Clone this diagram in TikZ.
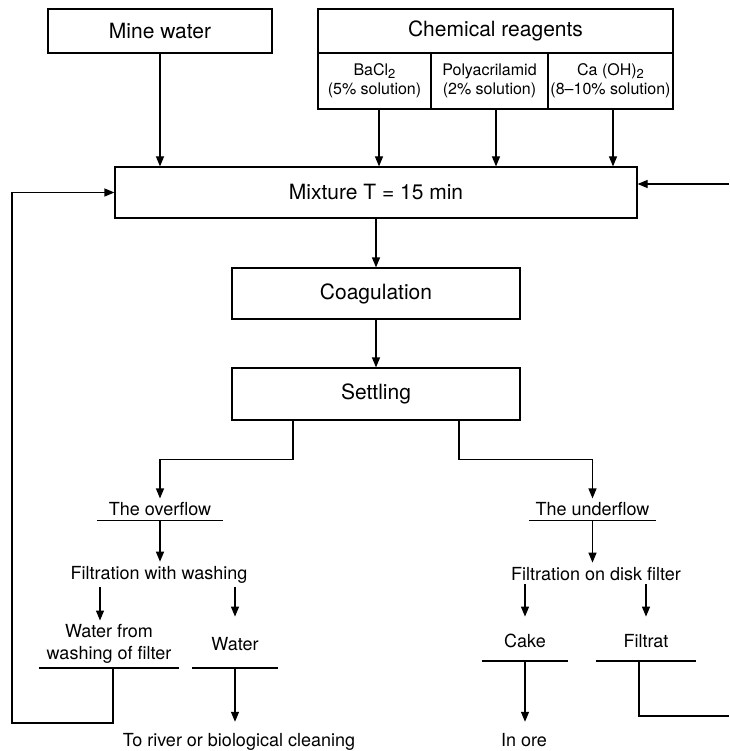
\documentclass[tikz,border=0pt]{standalone}
\usepackage{fontspec}
\setmainfont{TeX Gyre Heros}
\usetikzlibrary{arrows.meta}
% lowered subscript for the chemical formulas
\newcommand\chemsub[1]{\raisebox{-0.35ex}{\fontsize{13}{13}\selectfont #1}}
\begin{document}
\begin{tikzpicture}[x=1pt,y=-1pt,
  box/.style={draw,line width=1.2pt,inner sep=2pt,font=\fontsize{21}{25}\selectfont},
  sub/.style={draw,line width=1.2pt,inner xsep=1pt,minimum height=56pt,align=center,
    font=\fontsize{16}{19}\selectfont},
  flow/.style={line width=1.2pt,-{Triangle[length=10pt,width=8pt]}},
  link/.style={line width=1.2pt},
  txt/.style={inner xsep=0pt,inner ysep=4pt,font=\fontsize{18}{22}\selectfont,align=center},
  thinrule/.style={line width=1pt},
  thickrule/.style={line width=2.6pt}]

\useasboundingbox (0,0) rectangle (729,751);

% ---- inputs ----
\node[box,minimum width=224pt,minimum height=44pt] (mine) at (160,31) {Mine water};
\node[box,minimum width=355pt,minimum height=44pt] (chem) at (495.5,31) {Chemical reagents};
\node[sub,minimum width=113pt] (ba) at (374.5,81) {BaCl\chemsub{2}\\(5\% solution)};
\node[sub,minimum width=117pt] (poly) at (489.5,81) {Polyacrilamid\\(2\% solution)};
\node[sub,minimum width=125pt] (ca) at (610.5,81) {Ca (OH)\chemsub{2}\\(8–10\% solution)};

% ---- main process ----
\node[box,minimum width=522pt,minimum height=51pt] (mix) at (376,192.5) {Mixture T = 15 min};
\node[box,minimum width=288pt,minimum height=51pt] (coag) at (376,293.5) {Coagulation};
\node[box,minimum width=288pt,minimum height=52pt] (settle) at (376,394) {Settling};

% ---- overflow branch ----
\node[txt,anchor=south,minimum width=126pt,text depth=0pt] (ovf) at (160,520) {The overflow};
\node[txt,anchor=base] (filtw) at (159,579) {Filtration with washing};
\node[txt,anchor=south,minimum width=140pt] (wfw) at (109,668) {Water from\\washing of filter};
\node[txt,anchor=south,minimum width=86pt,text height=30pt,text depth=13pt] (wat) at (235,668) {Water};
\node[txt,anchor=base,text height=20pt] (river) at (239,746) {To river or biological cleaning};

% ---- underflow branch ----
\node[txt,anchor=south,minimum width=127pt,text depth=0pt] (unf) at (592.5,520) {The underflow};
\node[txt,anchor=base] (filtd) at (596,580) {Filtration on disk filter};
\node[txt,anchor=south,minimum width=86pt,text height=27pt,text depth=9pt] (cake) at (525,661) {Cake};
\node[txt,anchor=south,minimum width=100pt,text height=27pt,text depth=9pt] (filtrat) at (646,661) {Filtrat};
\node[txt,anchor=base,text height=20pt] (ore) at (524,746) {In ore};

% ---- connectors: inputs to mixture ----
\draw[flow] (mine.south) -- (mine.south |- mix.north);
\path ([xshift=4.5pt]ba.south) coordinate (baout)
      ([xshift=6.5pt]poly.south) coordinate (polyout)
      ([xshift=2.5pt]ca.south) coordinate (caout);
\draw[flow] (baout) -- (baout |- mix.north);
\draw[flow] (polyout) -- (polyout |- mix.north);
\draw[flow] (caout) -- (caout |- mix.north);
\coordinate (rin) at (729,184);
\draw[flow] (rin) -- (rin -| mix.east);

% ---- main chain ----
\draw[flow] (mix.south) -- (coag.north);
\draw[flow] (coag.south) -- (settle.north);

% ---- split after settling ----
\path ([xshift=-83pt]settle.south) coordinate (sl)
      ([xshift=83pt]settle.south) coordinate (sr);
\draw[flow] (sl) -- ++(0,39) -| (ovf.north);
\draw[flow] (sr) -- ++(0,39) -| (unf.north);

% ---- overflow side ----
\draw[thinrule] (ovf.south west) -- (ovf.south east);
\draw[flow] (ovf.south) -- (ovf.south |- filtw.north);
\coordinate (wa) at (100,0);
\draw[flow] (filtw.south -| wa) -- (wa |- wfw.north);
\draw[flow] (filtw.south -| wat) -- (wat.north);
\draw[thickrule] (wfw.south west) -- (wfw.south east);
\draw[thickrule] (wat.south west) -- (wat.south east);
\draw[flow] (wat.south) -- (wat.south |- river.north);
\coordinate (fbl) at (12,723);
\draw[flow] ([xshift=4pt]wfw.south) |- (fbl) |- (mix.west);

% ---- underflow side ----
\draw[thinrule] (unf.south west) -- (unf.south east);
\draw[flow] (unf.south) -- (unf.south |- filtd.north);
\draw[flow] (filtd.south -| cake) -- (cake.north);
\draw[flow] (filtd.south -| filtrat) -- (filtrat.north);
\draw[thickrule] (cake.south west) -- (cake.south east);
\draw[thickrule] (filtrat.south west) -- (filtrat.south east);
\draw[flow] (cake.south) -- (cake.south |- ore.north);
\coordinate (fre) at (729,716);
\draw[link] ([xshift=-7pt]filtrat.south) |- (fre);

\end{tikzpicture}
\end{document}
